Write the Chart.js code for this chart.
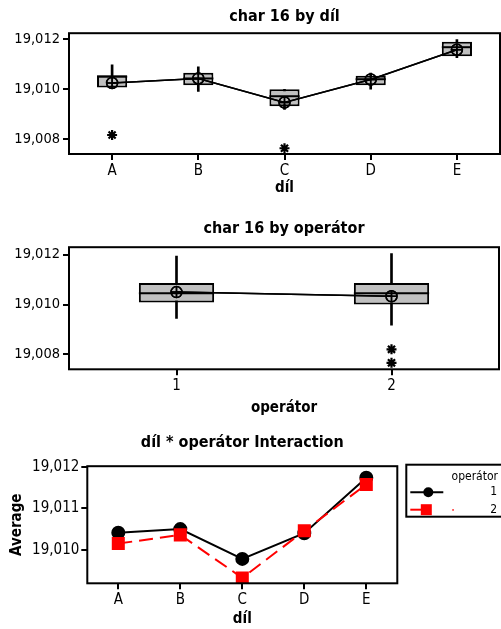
<!DOCTYPE html>
<html>
<head>
<meta charset="utf-8">
<script src="https://cdn.jsdelivr.net/npm/chart.js@4/dist/chart.umd.min.js"></script>
<style>
body{margin:0;background:#fff;width:501px;height:629px;overflow:hidden;position:relative}
canvas{position:absolute;left:0}
</style>
</head>
<body>
<canvas id="c1" width="501" height="200" style="top:0"></canvas>
<canvas id="c2" width="501" height="215" style="top:205px"></canvas>
<canvas id="c3" width="501" height="209" style="top:420px"></canvas>
<script>
// char 16 by díl
const parts=['A','B','C','D','E']
const partQ1=[19.01007,19.01016,19.00932,19.01016,19.01132]
const partQ3=[19.01056,19.01066,19.01000,19.01054,19.01190]
const partMedian=[19.01050,19.01043,19.00972,19.01040,19.01168]
const partLow=[19.01007,19.00991,19.00919,19.01000,19.01126]
const partHigh=[19.01098,19.01090,19.01000,19.01065,19.01198]
const partMean=[19.01025,19.01043,19.00947,19.01039,19.01158]
const partOutX=['A','C']
const partOutY=[19.00817,19.00764]

// char 16 by operátor
const operators=['1','2']
const opQ1=[19.01008,19.01000]
const opQ3=[19.01086,19.01086]
const opMedian=[19.01045,19.01045]
const opLow=[19.00944,19.00917]
const opHigh=[19.01194,19.01204]
const opMean=[19.01050,19.01033]
const opOutX=['2','2']
const opOutY=[19.00820,19.00766]

// díl * operátor interaction
const avgOp1=[19.01041,19.01050,19.00978,19.01040,19.01174]
const avgOp2=[19.01015,19.01036,19.00932,19.01046,19.01158]

const boxTicks=[19.008,19.010,19.012]
const avgTicks=[19.010,19.011,19.012]

const FONT="'DejaVu Sans Condensed','DejaVu Sans',sans-serif"
Chart.defaults.font.family=FONT
Chart.defaults.color='#000'
Chart.defaults.animation=false

const fmt=v=>v.toFixed(3).replace('.',',')

const frame={
id:'frame',
afterDraw(chart){
const a=chart.chartArea,ctx=chart.ctx
ctx.save()
ctx.strokeStyle='#000'
ctx.lineWidth=2
ctx.strokeRect(a.left,a.top,a.right-a.left,a.bottom-a.top)
ctx.restore()
}
}

function medianPlugin(medians){
return{
id:'median',
afterDatasetsDraw(chart){
const meta=chart.getDatasetMeta(1)
const y=chart.scales.y,ctx=chart.ctx
ctx.save()
ctx.strokeStyle='#000'
ctx.lineWidth=2
meta.data.forEach((bar,i)=>{
const py=y.getPixelForValue(medians[i])
ctx.beginPath()
ctx.moveTo(bar.x-bar.width/2,py)
ctx.lineTo(bar.x+bar.width/2,py)
ctx.stroke()
})
ctx.restore()
// redraw means on top
chart.getDatasetMeta(2).controller.draw()
chart.getDatasetMeta(3).controller.draw()
}
}
}

function boxChart(id,cats,q1,q3,med,lo,hi,mean,outX,outY,opt){
return new Chart(document.getElementById(id),{
type:'bar',
data:{
labels:cats,
datasets:[
{data:cats.map((c,i)=>[lo[i],hi[i]]),backgroundColor:'#000',barThickness:2,grouped:false,order:3},
{data:cats.map((c,i)=>[q1[i],q3[i]]),backgroundColor:'#c0c0c0',borderColor:'#000',borderWidth:2,borderSkipped:false,
barPercentage:0.35,categoryPercentage:1,grouped:false,order:2},
{type:'line',data:mean,borderColor:'#000',borderWidth:1.5,pointStyle:'circle',pointRadius:5.5,
pointBorderWidth:1.5,pointBorderColor:'#000',pointBackgroundColor:'rgba(0,0,0,0)',order:1},
{type:'line',data:mean,showLine:false,pointStyle:'cross',pointRadius:5.5,pointBorderWidth:1.5,pointBorderColor:'#000',order:0},
{type:'line',data:outX.map((x,i)=>({x:x,y:outY[i]})),showLine:false,pointStyle:'star',pointRadius:5,
pointBorderWidth:2.2,pointBorderColor:'#000',order:0}
]
},
options:{
responsive:false,
layout:{autoPadding:false,padding:{left:0,right:opt.right,top:0,bottom:0}},
plugins:{
legend:{display:false},
tooltip:{enabled:false},
title:{display:true,text:opt.title,fullSize:false,font:{size:16,weight:'bold'},padding:opt.titlePad}
},
scales:{
x:{
grid:{offset:false,drawOnChartArea:false,tickLength:6,color:'#000',lineWidth:2},
border:{display:false},
ticks:{font:{size:15},padding:2},
title:{display:true,text:opt.xTitle,font:{size:15,weight:'bold'},padding:{top:0,bottom:opt.xTitleBottom}},
afterFit(s){s.height=opt.xHeight;s.paddingLeft=0;s.paddingRight=0}
},
y:{
min:opt.min,max:opt.max,
grid:{drawOnChartArea:false,tickLength:6,color:'#000',lineWidth:2},
border:{display:false},
ticks:{font:{size:14.5},padding:3,callback:v=>fmt(v)},
afterBuildTicks(s){s.ticks=boxTicks.map(v=>({value:v}))},
afterFit(s){s.width=69}
}
}
},
plugins:[frame,medianPlugin(med)]
})
}

boxChart('c1',parts,partQ1,partQ3,partMedian,partLow,partHigh,partMean,partOutX,partOutY,
{title:'char 16 by díl',titlePad:{top:7,bottom:7},xTitle:'díl',xHeight:46,xTitleBottom:3,right:1,min:19.00741,max:19.01224})

boxChart('c2',operators,opQ1,opQ3,opMedian,opLow,opHigh,opMean,opOutX,opOutY,
{title:'char 16 by operátor',titlePad:{top:14,bottom:9},xTitle:'operátor',xHeight:50.7,xTitleBottom:3,right:2,min:19.0074,max:19.0123})

const legendBox={
id:'legendBox',
afterDraw(chart){
const a=chart.chartArea,ctx=chart.ctx
const lx=a.right+9,ty=a.top-1.5
ctx.save()
ctx.strokeStyle='#000'
ctx.lineWidth=2
ctx.strokeRect(lx,ty,120,52)
ctx.fillStyle='#000'
ctx.font="12px "+FONT
ctx.textAlign='right'
ctx.textBaseline='middle'
ctx.fillText('operátor',498,ty+12.5)
ctx.fillText('1',497,ty+27.5)
ctx.fillText('2',497,ty+45)
// entry 1
ctx.lineWidth=2
ctx.beginPath();ctx.moveTo(lx+4,ty+27.5);ctx.lineTo(lx+37,ty+27.5);ctx.stroke()
ctx.beginPath();ctx.arc(lx+22,ty+27.5,5,0,Math.PI*2);ctx.fill()
// entry 2
ctx.strokeStyle='#f00';ctx.fillStyle='#f00'
ctx.beginPath();ctx.moveTo(lx+4,ty+45);ctx.lineTo(lx+17,ty+45);ctx.stroke()
ctx.fillRect(lx+14.5,ty+39.5,11,11)
ctx.fillRect(lx+46,ty+44.5,1.5,1.5)
ctx.restore()
}
}

new Chart(document.getElementById('c3'),{
type:'line',
data:{
labels:parts,
datasets:[
{label:'1',data:avgOp1,borderColor:'#000',borderWidth:2,pointStyle:'circle',pointRadius:6,
pointBackgroundColor:'#000',pointBorderColor:'#000',order:1},
{label:'2',data:avgOp2,borderColor:'#f00',borderWidth:2,borderDash:[14,7],pointStyle:'rect',pointRadius:7.8,
pointBackgroundColor:'#f00',pointBorderColor:'#f00',order:0}
]
},
options:{
responsive:false,
layout:{autoPadding:false,padding:{left:0,right:103.7,top:0,bottom:0}},
plugins:{
legend:{display:false},
tooltip:{enabled:false},
title:{display:true,text:'díl * operátor Interaction',fullSize:false,font:{size:16,weight:'bold'},padding:{top:13,bottom:14}}
},
scales:{
x:{
offset:true,
grid:{drawOnChartArea:false,tickLength:6,color:'#000',lineWidth:2},
border:{display:false},
ticks:{font:{size:15},padding:2},
title:{display:true,text:'díl',font:{size:15,weight:'bold'},padding:{top:0,bottom:1}},
afterFit(s){s.height=45.7}
},
y:{
min:19.00919,max:19.01202,
grid:{drawOnChartArea:false,tickLength:6,color:'#000',lineWidth:2},
border:{display:false},
ticks:{font:{size:15},padding:2,callback:v=>fmt(v)},
title:{display:true,text:'Average',font:{size:15,weight:'bold'},padding:{top:8,bottom:0}},
afterBuildTicks(s){s.ticks=avgTicks.map(v=>({value:v}))},
afterFit(s){s.width=87.3}
}
}
},
plugins:[frame,legendBox]
})
</script>
</body>
</html>
